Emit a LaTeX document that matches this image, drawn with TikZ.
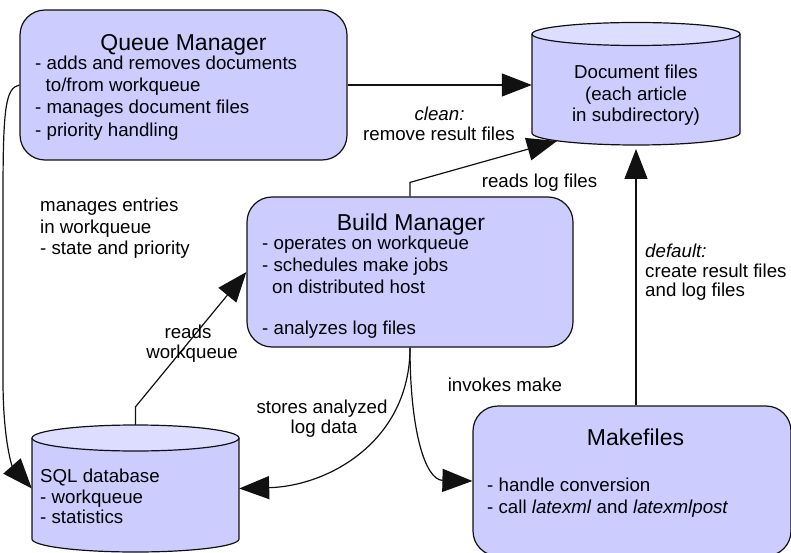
\documentclass[tikz,border=0pt]{standalone}
\usepackage{fontspec}
\setmainfont{Liberation Sans}
\usetikzlibrary{arrows.meta}
\definecolor{boxfill}{HTML}{CCCCFF}
\definecolor{capfill}{HTML}{DDDDFF}
\definecolor{edge}{HTML}{111111}
\begin{document}
\begin{tikzpicture}[x=1pt,y=-1pt,
  every node/.style={inner sep=0pt, text height=13.4pt, text depth=0pt, font=\fontsize{18.7pt}{22pt}\selectfont},
  ttl/.style={font=\fontsize{23pt}{26pt}\selectfont, text height=16.5pt},
  lbl/.style={anchor=west},
  box/.style={draw=edge, fill=boxfill, line width=1.2pt, rounded corners=25pt},
  conn/.style={draw=edge, line width=1.2pt, -{Triangle[length=30pt,width=23pt]}},
  cyl/.style={draw=edge, line width=1.2pt},
]
\useasboundingbox (0,0) rectangle (791,553);
\clip (0,0) rectangle (791,553);

% boxes
\node[box, minimum width=327pt, minimum height=150pt] (qm) at (183.5,85) {};
\node[box, minimum width=326pt, minimum height=150pt] (bm) at (410,272) {};
\node[box, minimum width=318pt, minimum height=150pt] (mk) at (632,481) {};

% document files cylinder
\fill[boxfill] (532,34) rectangle (740,133);
\fill[boxfill] (636,133) ellipse [x radius=104pt, y radius=12pt];
\draw[cyl] (532,34) -- (532,133) .. controls (532,139.6) and (578.6,145) .. (636,145) .. controls (693.4,145) and (740,139.6) .. (740,133) -- (740,34);
\filldraw[cyl, fill=capfill] (636,34) ellipse [x radius=104pt, y radius=11.5pt];
\node[minimum width=208pt, minimum height=122pt] (doc) at (636,84) {};

% SQL database cylinder
\fill[boxfill] (32,438) rectangle (239,539);
\fill[boxfill] (135.5,539) ellipse [x radius=103.5pt, y radius=13pt];
\draw[cyl] (32,438) -- (32,539) .. controls (32,546.2) and (78.3,552) .. (135.5,552) .. controls (192.7,552) and (239,546.2) .. (239,539) -- (239,438);
\filldraw[cyl, fill=capfill] (135.5,438) ellipse [x radius=103.5pt, y radius=13pt];
\node[minimum width=207pt, minimum height=127pt] (sql) at (135.5,488.5) {};

% free ends
\coordinate (docbl) at (557,141);
\coordinate (docb) at (636,149);

% connectors
\draw[conn] (qm.east) -- (qm.east -| doc.west);
\draw[conn] (bm.north) -- ++(0,-14) -- (docbl);
\draw[conn] (docb |- mk.north) -- (docb);
\draw[conn] (sql.north) -- ++(0,-18) -- (bm.west);
\draw[conn] (bm.south) .. controls (410,440) and (330,486) .. (sql.east);
\draw[conn] (bm.south) .. controls (410,430) and (425,480) .. (mk.west);
\draw[conn] (qm.west) .. controls (5,88) and (3,110) .. (3,200) -- (3,380) .. controls (3,440) and (12,466) .. (sql.west);

% box texts
\node[ttl] (qmT) at (183.5,42) {Queue Manager};
\node[lbl] (qm1) at (35,63) {- adds and removes documents};
\node[lbl] (qm2) at (45.5,85) {to/from workqueue};
\node[lbl] (qm3) at (35,107) {- manages document files};
\node[lbl] (qm4) at (35,130) {- priority handling};

\node (doc1) at (636,72) {Document files};
\node (doc2) at (636,93.5) {(each article};
\node (doc3) at (636,115) {in subdirectory)};

\node[ttl] (bmT) at (411,222) {Build Manager};
\node[lbl] (bm1) at (262,243) {- operates on workqueue};
\node[lbl] (bm2) at (262,265) {- schedules make jobs};
\node[lbl] (bm3) at (272,287) {on distributed host};
\node[lbl] (bm4) at (262,328) {- analyzes log files};

\node[lbl] (sql1) at (40,476) {SQL database};
\node[lbl] (sql2) at (40,497) {- workqueue};
\node[lbl] (sql3) at (40,517) {- statistics};

\node[ttl] (mkT) at (635.5,437) {Makefiles};
\node[lbl] (mk1) at (487,485) {- handle conversion};
\node[lbl] (mk2) at (487,507) {- call \textit{latexml} and \textit{latexmlpost}};

% connector labels
\node (l1a) at (439.5,114) {\textit{clean:}};
\node (l1b) at (439,134) {remove result files};
\node (l2) at (539.5,181) {reads log files};
\node[lbl] (l3a) at (40,205) {manages entries};
\node[lbl] (l3b) at (40,227) {in workqueue};
\node[lbl] (l3c) at (40,248) {- state and priority};
\node (l4a) at (188,332) {reads};
\node (l4b) at (192,352) {workqueue};
\node (l5a) at (322,407) {stores analyzed};
\node (l5b) at (324,427) {log data};
\node (l6) at (505,385) {invokes make};
\node[lbl] (l7a) at (645,251) {\textit{default:}};
\node[lbl] (l7b) at (645,270.5) {create result files};
\node[lbl] (l7c) at (645,290) {and log files};
\end{tikzpicture}
\end{document}
